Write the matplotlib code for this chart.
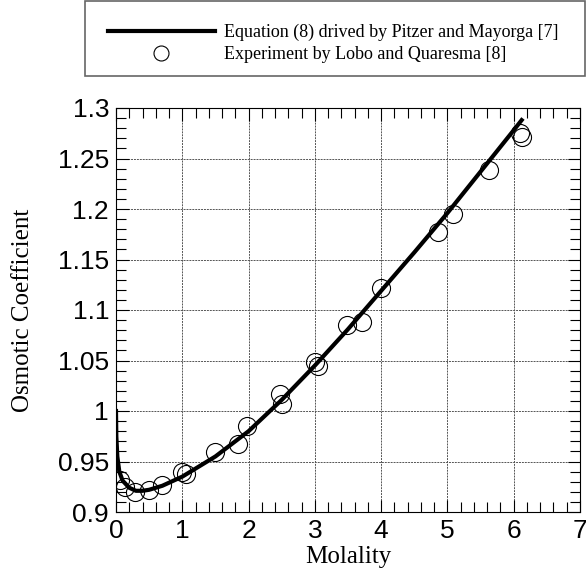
import matplotlib
matplotlib.use('Agg')
import matplotlib.pyplot as plt
import numpy as np
from matplotlib.patches import Rectangle
from matplotlib.ticker import MultipleLocator

# curva de Pitzer y Mayorga
m_eq = [0.0, 0.005, 0.02, 0.05, 0.1, 0.2, 0.3, 0.4, 0.5, 0.7, 1.0, 1.5,
        2.0, 2.5, 3.0, 3.5, 4.0, 4.5, 5.0, 5.5, 6.0, 6.12]
phi_eq = [1.0, 0.975, 0.955, 0.94, 0.931, 0.924, 0.921, 0.921, 0.922, 0.926,
          0.935, 0.955, 0.980, 1.011, 1.045, 1.081, 1.119, 1.157, 1.196,
          1.237, 1.278, 1.288]

# datos experimentales de Lobo y Quaresma
m_exp = [0.06, 0.14, 0.29, 0.5, 0.7, 1.0, 1.05, 1.49, 1.84, 1.98, 2.5, 2.48,
         3.0, 3.04, 3.49, 3.71, 4.0, 4.86, 5.08, 5.62, 6.1, 6.12]
phi_exp = [0.932, 0.925, 0.92, 0.922, 0.927, 0.94, 0.938, 0.959, 0.967,
           0.985, 1.007, 1.017, 1.049, 1.045, 1.085, 1.088, 1.122, 1.177,
           1.195, 1.239, 1.275, 1.271]

ytick_vals = [0.9, 0.95, 1.0, 1.05, 1.1, 1.15, 1.2, 1.25, 1.3]
ytick_labels = ['0.9', '0.95', '1', '1.05', '1.1', '1.15', '1.2', '1.25', '1.3']

fig = plt.figure(figsize=(5.86, 5.75), dpi=100)
ax = fig.add_axes([116/586, 1 - 512/575, 464/586, 404/575])

ax.plot(m_eq, phi_eq, color='black', lw=3, zorder=3,
        label='Equation (8) drived by Pitzer and Mayorga [7]')
ax.plot(m_exp, phi_exp, 'o', ms=13, mfc='none', mec='black', mew=0.8,
        zorder=4, label='Experiment by Lobo and Quaresma [8]')

ax.set_xlim(0, 7)
ax.set_ylim(0.9, 1.3)
ax.xaxis.set_major_locator(MultipleLocator(1))
ax.xaxis.set_minor_locator(MultipleLocator(0.2))
ax.yaxis.set_minor_locator(MultipleLocator(0.01))
ax.set_yticks(ytick_vals)
ax.set_yticklabels(ytick_labels)
ax.tick_params(which='both', direction='in', top=True, right=True,
               labelsize=19, pad=5)
ax.tick_params(which='major', length=9, width=0.8)
ax.tick_params(which='minor', length=7, width=0.8)
for lab in ax.get_xticklabels() + ax.get_yticklabels():
    lab.set_family('Liberation Sans')
ax.grid(True, which='major', ls=(0, (2, 1)), color='#555555', lw=0.7)
for s in ax.spines.values():
    s.set_linewidth(0.8)

ax.set_xlabel('Molality', family='Liberation Serif', fontsize=18, labelpad=2)
ax.set_ylabel('Osmotic Coefficient', family='Liberation Serif', fontsize=18,
              labelpad=17)

# leyenda arriba, fuera de los ejes
fig.patches.append(Rectangle((85/586, 1 - 76/575), 500/586, 75/575,
                             transform=fig.transFigure, fill=False,
                             edgecolor='#666666', lw=1.2))
h, l = ax.get_legend_handles_labels()
leg = fig.legend(h, l, loc='upper left', bbox_to_anchor=(108/586, 1 - 24/575),
                 frameon=False, borderpad=0, borderaxespad=0,
                 handlelength=5.9, handletextpad=0.55, labelspacing=0.27,
                 markerscale=0.83,
                 prop={'family': 'Liberation Serif', 'size': 13})

fig.savefig('out.png', dpi=100)
